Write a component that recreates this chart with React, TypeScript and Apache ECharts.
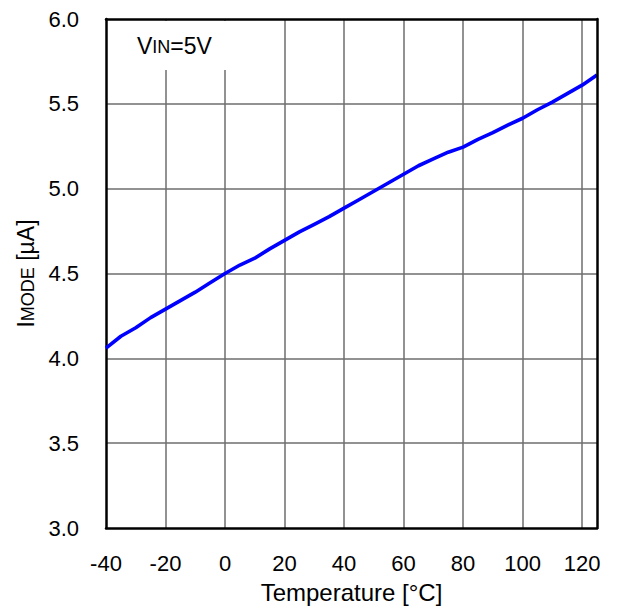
import React, { useEffect, useRef } from "react";
import * as echarts from "echarts";

const temps = [-40, -35, -30, -25, -20, -15, -10, -5, 0, 5, 10, 15, 20, 25, 30, 35, 40, 45, 50, 55, 60, 65, 70, 75, 80, 85, 90, 95, 100, 105, 110, 115, 120, 125];
const imode = [4.06, 4.13, 4.18, 4.24, 4.29, 4.34, 4.39, 4.445, 4.5, 4.55, 4.59, 4.645, 4.695, 4.745, 4.79, 4.835, 4.885, 4.935, 4.985, 5.035, 5.085, 5.135, 5.175, 5.215, 5.245, 5.29, 5.33, 5.375, 5.415, 5.465, 5.51, 5.56, 5.61, 5.67];

const xMin = -40;
const xMax = 125;
const xStep = 20;
const yMin = 3.0;
const yMax = 6.0;
const yStep = 0.5;

const FONT = "'Liberation Sans', Arial, sans-serif";

export default function App() {
  const ref = useRef<HTMLDivElement>(null);
  useEffect(() => {
    if (!ref.current) return;
    const chart = echarts.init(ref.current, null, { renderer: "svg" });
    const frameLine = { show: true, onZero: false, lineStyle: { color: "#000", width: 2.5 } };
    chart.setOption({
      animation: false,
      backgroundColor: "#fff",
      textStyle: { fontFamily: FONT },
      grid: { left: 106, top: 19, right: 20, bottom: 86, containLabel: false },
      xAxis: [
        {
          type: "value",
          min: xMin,
          max: xMax,
          interval: xStep,
          position: "bottom",
          axisLine: frameLine,
          axisTick: { show: false },
          axisLabel: { color: "#000", fontSize: 22, margin: 24, showMaxLabel: false, fontFamily: FONT },
          splitLine: { show: true, showMinLine: false, showMaxLine: false, lineStyle: { color: "#6e6e6e", width: 1.5 } },
          name: "Temperature [°C]",
          nameLocation: "middle",
          nameGap: 52,
          nameTextStyle: { color: "#000", fontSize: 24, fontFamily: FONT },
        },
        {
          type: "value",
          min: xMin,
          max: xMax,
          interval: xStep,
          position: "top",
          z: 10,
          axisLine: frameLine,
          axisTick: { show: false },
          axisLabel: { show: false },
          splitLine: { show: false },
        },
      ],
      yAxis: [
        {
          type: "value",
          min: yMin,
          max: yMax,
          interval: yStep,
          position: "left",
          axisLine: frameLine,
          axisTick: { show: false },
          axisLabel: {
            color: "#000",
            fontSize: 22,
            margin: 27,
            fontFamily: FONT,
            formatter: (v: number) => v.toFixed(1),
          },
          splitLine: { show: true, showMinLine: false, showMaxLine: false, lineStyle: { color: "#6e6e6e", width: 1.5 } },
          name: "{a|I}{b|MODE}{a| [µA]}",
          nameLocation: "middle",
          nameGap: 67,
          nameRotate: 90,
          nameTextStyle: {
            color: "#000",
            fontFamily: FONT,
            rich: {
              a: { fontSize: 23, color: "#000", fontFamily: FONT, verticalAlign: "bottom" },
              b: { fontSize: 18, color: "#000", fontFamily: FONT, verticalAlign: "bottom", padding: [0, 0, 1, 0] },
            },
          },
        },
        {
          type: "value",
          min: yMin,
          max: yMax,
          interval: yStep,
          position: "right",
          z: 10,
          axisLine: frameLine,
          axisTick: { show: false },
          axisLabel: { show: false },
          splitLine: { show: false },
        },
      ],
      graphic: [
        {
          type: "rect",
          left: 108,
          top: 21,
          shape: { width: 140, height: 49 },
          style: { fill: "#fff" },
          z: 5,
        },
        {
          type: "text",
          left: 137,
          top: 34,
          z: 6,
          style: {
            text: "{a|V}{b|IN}{a|=5V}",
            fill: "#000",
            rich: {
              a: { fontSize: 23, fill: "#000", fontFamily: FONT, verticalAlign: "bottom" },
              b: { fontSize: 18, fill: "#000", fontFamily: FONT, verticalAlign: "bottom", padding: [0, 0, 1, 0] },
            },
          },
        },
      ],
      series: [
        {
          type: "line",
          xAxisIndex: 0,
          yAxisIndex: 0,
          data: temps.map((t, i) => [t, imode[i]]),
          showSymbol: false,
          symbol: "none",
          lineStyle: { color: "#0000FF", width: 3.6 },
          z: 3,
        },
      ],
    });
    return () => chart.dispose();
  }, []);
  return <div ref={ref} style={{ position: "absolute", left: 0, top: 0, width: 617, height: 614 }} />;
}
